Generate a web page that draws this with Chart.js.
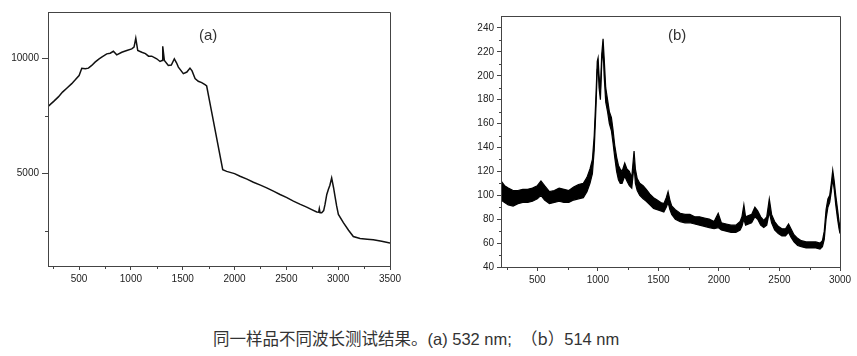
<!DOCTYPE html>
<html>
<head>
<meta charset="utf-8">
<script src="https://cdn.jsdelivr.net/npm/chart.js@4/dist/chart.umd.min.js"></script>
<style>
  html, body { margin: 0; padding: 0; background: #fff; }
  body { width: 857px; height: 356px; position: relative; overflow: hidden; }
  .wrap { position: absolute; top: 0; }
  .lbl { position: absolute; font-family: "Liberation Sans", Arial, sans-serif; font-size: 15px; color: #333; }
  #caption { position: absolute; left: 213px; top: 326px; font-family: "Liberation Sans", "Noto Sans CJK SC", sans-serif; font-size: 16.5px; color: #333; white-space: pre; }
  #caption .cjk { font-family: "Noto Sans CJK SC", sans-serif; }
</style>
</head>
<body>
<div class="wrap" style="left:0px;width:420px;height:300px;"><canvas id="ca" width="420" height="300"></canvas></div>
<div class="wrap" style="left:440px;width:417px;height:300px;"><canvas id="cb" width="417" height="300"></canvas></div>
<div class="lbl" style="left:199px;top:26px;">(a)</div>
<div class="lbl" style="left:668px;top:26px;">(b)</div>
<div id="caption"><span class="cjk">同一样品不同波长测试结果。</span>(a) 532 nm;  <span class="cjk">（b）</span>514 nm</div>
<script>
// ---------- data: spectrum (a), 532 nm ----------
const xA = [204, 260, 300, 340, 381, 429, 461, 500, 526, 560, 590, 622, 654, 690, 718, 767, 800, 831, 863, 912, 960, 1008, 1030, 1047, 1066, 1105, 1140, 1170, 1201, 1249, 1281, 1300, 1307, 1323, 1361, 1390, 1419, 1440, 1458, 1506, 1540, 1570, 1590, 1619, 1650, 1683, 1715, 1731, 1779, 1886, 1924, 2000, 2053, 2120, 2182, 2250, 2310, 2380, 2439, 2500, 2568, 2630, 2696, 2750, 2793, 2812, 2818, 2825, 2841, 2860, 2873, 2890, 2905, 2920, 2937, 2955, 2969, 2985, 3002, 3050, 3100, 3146, 3211, 3280, 3339, 3420, 3500];
const yA = [7920, 8150, 8323, 8530, 8700, 8897, 9050, 9250, 9560, 9540, 9570, 9685, 9828, 9960, 10043, 10186, 10215, 10300, 10146, 10258, 10331, 10404, 10480, 10860, 10331, 10258, 10200, 10086, 10086, 9974, 9858, 9900, 10516, 9900, 9686, 9700, 9974, 9800, 9613, 9329, 9400, 9570, 9450, 9114, 9000, 8942, 8850, 8796, 7678, 5171, 5099, 5000, 4885, 4760, 4627, 4500, 4383, 4230, 4096, 3970, 3810, 3680, 3552, 3430, 3337, 3330, 3480, 3310, 3308, 3400, 3666, 4100, 4311, 4500, 4813, 4400, 4025, 3600, 3236, 2878, 2550, 2276, 2190, 2160, 2133, 2070, 1990];

// ---------- data: spectrum (b), 514 nm (upper / lower edge of the noise band) ----------
const xB = [200, 230, 260, 300, 340, 380, 420, 460, 500, 530, 560, 600, 640, 680, 720, 760, 800, 840, 880, 910, 935, 955, 970, 985, 995, 1002, 1010, 1021, 1032, 1043, 1052, 1065, 1080, 1095, 1112, 1125, 1139, 1155, 1170, 1185, 1200, 1222, 1240, 1260, 1280, 1299, 1310, 1325, 1346, 1374, 1400, 1430, 1460, 1490, 1520, 1545, 1565, 1580, 1595, 1610, 1640, 1680, 1720, 1760, 1800, 1840, 1880, 1920, 1960, 1994, 2020, 2060, 2100, 2140, 2175, 2190, 2206, 2220, 2245, 2270, 2297, 2320, 2345, 2370, 2395, 2416, 2435, 2460, 2490, 2520, 2550, 2575, 2595, 2620, 2650, 2680, 2720, 2760, 2800, 2835, 2855, 2870, 2885, 2900, 2915, 2928, 2940, 2952, 2965, 2980, 2992, 3000];
const yBUpper = [112, 108, 106, 104, 104, 105, 105, 106, 108, 112, 108, 103, 104, 106, 105, 104, 107, 109, 110, 115, 122, 130, 150, 185, 212, 215, 200, 188, 218, 231, 215, 190, 180, 170, 165, 155, 142, 132, 125, 122, 120, 127, 122, 120, 115, 137, 122, 114, 110, 108, 105, 101, 98, 96, 94, 93, 98, 103, 96, 91, 88, 85, 84, 84, 82, 82, 81, 80, 78, 85, 77, 76, 75, 75, 78, 82, 92, 82, 83, 84, 90, 87, 82, 79, 82, 97, 84, 78, 74, 72, 72, 76, 72, 67, 64, 62, 61, 61, 61, 60, 62, 70, 88, 97, 100, 110, 121, 112, 100, 88, 78, 73];
const yBLower = [96, 94, 92, 91, 93, 94, 94, 95, 97, 100, 96, 93, 94, 95, 94, 94, 96, 97, 98, 103, 110, 118, 138, 175, 205, 208, 190, 180, 210, 224, 200, 178, 170, 160, 154, 144, 132, 120, 113, 110, 110, 116, 112, 108, 106, 125, 110, 104, 100, 97, 95, 92, 89, 88, 87, 86, 90, 94, 88, 84, 80, 78, 77, 77, 76, 75, 74, 73, 72, 73, 71, 70, 69, 69, 71, 74, 80, 75, 76, 77, 82, 80, 75, 73, 75, 86, 77, 71, 68, 66, 66, 69, 65, 61, 58, 57, 56, 56, 56, 55, 57, 63, 80, 90, 94, 103, 114, 105, 92, 80, 72, 68];

// ---------- axis ticks ----------
const xTicksA = [500, 1000, 1500, 2000, 2500, 3000, 3500];
const xMinorA = [250, 750, 1250, 1750, 2250, 2750, 3250];
const yTicksA = [5000, 10000];
const yMinorA = [2500, 7500];
const xTicksB = [500, 1000, 1500, 2000, 2500, 3000];
const xMinorB = [250, 750, 1250, 1750, 2250, 2750];
const yTicksB = [40, 60, 80, 100, 120, 140, 160, 180, 200, 220, 240];
const yMinorB = [50, 70, 90, 110, 130, 150, 170, 190, 210, 230];

const AXIS = '#444';
const TICKFONT = { family: "'Liberation Sans', Arial, sans-serif", size: 10 };

const frame = {
  id: 'frame',
  afterDraw(chart, args, o) {
    const { ctx, chartArea: a, scales: { x, y } } = chart;
    ctx.save();
    ctx.strokeStyle = AXIS;
    ctx.lineWidth = 1;
    ctx.beginPath();
    ctx.rect(Math.round(a.left) + 0.5, Math.round(a.top) + 0.5, Math.round(a.right - a.left), Math.round(a.bottom - a.top));
    ctx.stroke();
    ctx.beginPath();
    for (const v of o.xMinor) {
      const p = Math.round(x.getPixelForValue(v)) + 0.5;
      ctx.moveTo(p, a.bottom); ctx.lineTo(p, a.bottom + o.xMinorLen);
    }
    for (const v of o.yMinor) {
      const p = Math.round(y.getPixelForValue(v)) + 0.5;
      ctx.moveTo(a.left, p); ctx.lineTo(a.left - o.yMinorLen, p);
    }
    ctx.stroke();
    ctx.restore();
  }
};

const plain = v => String(v);

function axisX(min, max, ticks, tickLen) {
  return {
    type: 'linear', min, max,
    afterBuildTicks: s => { s.ticks = ticks.map(v => ({ value: v })); },
    afterFit: s => { s.height = 24; },
    grid: { drawOnChartArea: false, drawTicks: true, tickLength: tickLen, color: AXIS },
    border: { display: true, color: AXIS },
    ticks: { font: TICKFONT, color: '#222', padding: 3, maxRotation: 0, autoSkip: false, callback: plain }
  };
}
function axisY(min, max, ticks, tickLen, width) {
  return {
    type: 'linear', min, max,
    afterBuildTicks: s => { s.ticks = ticks.map(v => ({ value: v })); },
    afterFit: s => { s.width = width; },
    grid: { drawOnChartArea: false, drawTicks: true, tickLength: tickLen, color: AXIS },
    border: { display: true, color: AXIS },
    ticks: { font: TICKFONT, color: '#222', padding: 3, autoSkip: false, callback: plain }
  };
}

const common = {
  responsive: false, animation: false, events: [],
  plugins: { legend: { display: false }, tooltip: { enabled: false } },
  elements: { point: { radius: 0 }, line: { tension: 0 } }
};

new Chart(document.getElementById('ca'), {
  type: 'line',
  data: {
    datasets: [{
      data: xA.map((v, i) => ({ x: v, y: yA[i] })),
      borderColor: '#111', borderWidth: 1.5, fill: false
    }]
  },
  options: Object.assign({}, common, {
    layout: { padding: { left: 0, top: 12, right: 30, bottom: 10 } },
    scales: { x: axisX(200, 3500, xTicksA, 4), y: axisY(1000, 12000, yTicksA, 6, 48) },
    plugins: Object.assign({}, common.plugins, {
      frame: { xMinor: xMinorA, yMinor: yMinorA, xMinorLen: 3, yMinorLen: 3 }
    })
  }),
  plugins: [frame]
});

new Chart(document.getElementById('cb'), {
  type: 'line',
  data: {
    datasets: [
      { data: xB.map((v, i) => ({ x: v, y: yBUpper[i] })), borderColor: '#000', borderWidth: 1.2, fill: false },
      { data: xB.map((v, i) => ({ x: v, y: yBLower[i] })), borderColor: '#000', borderWidth: 1.2, fill: '-1', backgroundColor: '#000' }
    ]
  },
  options: Object.assign({}, common, {
    layout: { padding: { left: 0, top: 16, right: 17, bottom: 9 } },
    scales: { x: axisX(200, 3000, xTicksB, 4), y: axisY(40, 250, yTicksB, 4, 61) },
    plugins: Object.assign({}, common.plugins, {
      frame: { xMinor: xMinorB, yMinor: yMinorB, xMinorLen: 3, yMinorLen: 2 }
    })
  }),
  plugins: [frame]
});
</script>
</body>
</html>
